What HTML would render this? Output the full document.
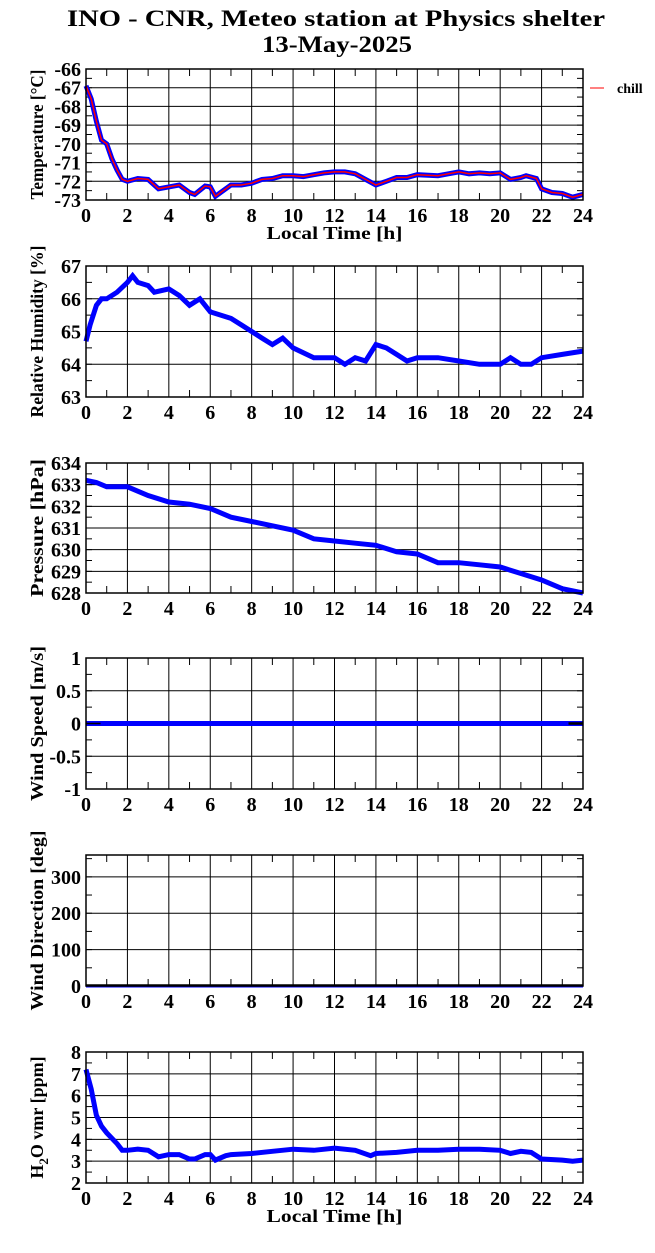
<!DOCTYPE html>
<html><head><meta charset="utf-8"><style>
html,body{margin:0;padding:0;background:#fff;}
svg text{font-family:"Liberation Serif",serif;font-weight:bold;fill:#000;}
</style></head><body>
<svg id="c" width="655" height="1248" viewBox="0 0 655 1248" xmlns="http://www.w3.org/2000/svg">
<text x="67" y="26" font-size="23" textLength="538" lengthAdjust="spacingAndGlyphs">INO - CNR, Meteo station at Physics shelter</text>
<text x="262" y="52" font-size="23" textLength="150" lengthAdjust="spacingAndGlyphs">13-May-2025</text>
<line x1="590" y1="88" x2="604" y2="88" stroke="#f00" stroke-width="1"/>
<text x="617" y="93" font-size="14">chill</text>
</svg>
<script>
const tempT=[0,0.25,0.5,0.75,1,1.25,1.5,1.75,2,2.5,3,3.5,4,4.5,5,5.25,5.75,6,6.25,6.5,7,7.5,8,8.5,9,9.5,10,10.5,11,11.5,12,12.5,13,13.5,14,14.5,15,15.5,16,17,17.5,18,18.5,19,19.5,20,20.5,21,21.25,21.75,22,22.5,23,23.5,24];
const tempV=[-66.9,-67.6,-68.8,-69.8,-70.0,-70.8,-71.4,-71.9,-72.0,-71.85,-71.9,-72.4,-72.3,-72.2,-72.6,-72.7,-72.25,-72.3,-72.8,-72.6,-72.2,-72.2,-72.1,-71.9,-71.85,-71.7,-71.7,-71.75,-71.65,-71.55,-71.5,-71.5,-71.6,-71.9,-72.2,-72.0,-71.8,-71.8,-71.65,-71.7,-71.6,-71.5,-71.6,-71.55,-71.6,-71.55,-71.9,-71.8,-71.7,-71.85,-72.4,-72.6,-72.65,-72.85,-72.7];
const rhT=[0,0.2,0.5,0.75,1,1.5,2,2.25,2.5,3,3.3,4,4.5,5,5.5,6,7,7.5,8,8.5,9,9.5,10,11,12,12.5,13,13.5,14,14.5,15,15.5,16,17,18,19,20,20.5,21,21.5,22,23,24];
const rhV=[64.7,65.2,65.8,66.0,66.0,66.2,66.5,66.7,66.5,66.4,66.2,66.3,66.1,65.8,66.0,65.6,65.4,65.2,65.0,64.8,64.6,64.8,64.5,64.2,64.2,64.0,64.2,64.1,64.6,64.5,64.3,64.1,64.2,64.2,64.1,64.0,64.0,64.2,64.0,64.0,64.2,64.3,64.4];
const prT=[0,0.5,1,2,3,4,5,6,7,8,9,10,11,12,13,14,15,16,17,18,19,20,21,22,23,24];
const prV=[633.2,633.1,632.9,632.9,632.5,632.2,632.1,631.9,631.5,631.3,631.1,630.9,630.5,630.4,630.3,630.2,629.9,629.8,629.4,629.4,629.3,629.2,628.9,628.6,628.2,628.0];
const wsT=[0,24];
const wsV=[0,0];
const wdT=[0,24];
const wdV=[0,0];
const h2oT=[0,0.25,0.5,0.75,1,1.5,1.75,2,2.5,3,3.5,4,4.5,5,5.25,5.75,6,6.25,6.75,7,8,9,10,11,12,13,13.75,14,15,16,17,18,19,20,20.5,21,21.5,22,23,23.5,24];
const h2oV=[7.2,6.3,5.1,4.6,4.3,3.8,3.5,3.5,3.55,3.5,3.2,3.3,3.3,3.1,3.1,3.3,3.3,3.05,3.25,3.3,3.35,3.45,3.55,3.5,3.6,3.5,3.25,3.35,3.4,3.5,3.5,3.55,3.55,3.5,3.35,3.45,3.4,3.1,3.05,3.0,3.05];
const xTicks=[0,2,4,6,8,10,12,14,16,18,20,22,24];

const NS="http://www.w3.org/2000/svg";
const svg=document.getElementById('c');
const X0=86,X1=583;
function el(tag,attrs,parent){const e=document.createElementNS(NS,tag);for(const k in attrs)e.setAttribute(k,attrs[k]);(parent||svg).appendChild(e);return e;}
const xs=t=>X0+(X1-X0)*t/24;

const panels=[
 {name:'temperature',top:69,bot:200,min:-73,max:-66,ticks:[-73,-72,-71,-70,-69,-68,-67,-66],minor:0.5,label:'Temperature [°C]',len:130,T:tempT,V:tempV,red:true,xlabel:true},
 {name:'humidity',top:266,bot:397,min:63,max:67,ticks:[63,64,65,66,67],minor:0.5,label:'Relative Humidity [%]',len:172,T:rhT,V:rhV},
 {name:'pressure',top:463,bot:593,min:628,max:634,ticks:[628,629,630,631,632,633,634],minor:0.5,label:'Pressure [hPa]',len:138,T:prT,V:prV},
 {name:'wind-speed',top:658,bot:789,min:-1,max:1,ticks:[-1,-0.5,0,0.5,1],minor:0.25,label:'Wind Speed [m/s]',len:155,T:wsT,V:wsV,wind:true},
 {name:'wind-direction',top:855,bot:986,min:0,max:360,ticks:[0,100,200,300],minor:50,label:'Wind Direction [deg]',len:180,T:wdT,V:wdV,wdir:true},
 {name:'h2o',top:1052,bot:1183,min:2,max:8,ticks:[2,3,4,5,6,7,8],minor:0.5,label:'H2O',len:0,T:h2oT,V:h2oV,xlabel:true}
];
panels.forEach(p=>{
 const g=el('g',{});
 
 
 const ys=v=>p.bot-(p.bot-p.top)*(v-p.min)/(p.max-p.min);
 p.ticks.forEach(v=>{const l=el('line',{x1:X0,x2:X1,y1:ys(v),y2:ys(v),stroke:'#000','stroke-width':1},g);
  const t=el('text',{x:X0-5,y:ys(v)+7,'font-size':20,'text-anchor':'end'},g);t.textContent=String(v);});
 for(let v=p.min;v<=p.max+1e-9;v+=p.minor){el('line',{x1:X0,x2:X0+6,y1:ys(v),y2:ys(v),stroke:'#000'},g);el('line',{x1:X1-6,x2:X1,y1:ys(v),y2:ys(v),stroke:'#000'},g);}
 xTicks.forEach(t=>{const l=el('line',{x1:xs(t),x2:xs(t),y1:p.top,y2:p.bot,stroke:'#000'},g);
  const tx=el('text',{x:xs(t),y:p.bot+22,'font-size':20,'text-anchor':'middle'},g);tx.textContent=String(t);});
 for(let t=1;t<24;t+=2){el('line',{x1:xs(t),x2:xs(t),y1:p.top,y2:p.top+7,stroke:'#000'},g);el('line',{x1:xs(t),x2:xs(t),y1:p.bot-7,y2:p.bot,stroke:'#000'},g);}
 const pts=p.T.map((t,i)=>xs(t).toFixed(1)+','+ys(p.V[i]).toFixed(1)).join(' ');
 const s=el('polyline',{points:pts,fill:'none',stroke:'#00f','stroke-width':p.wdir?3:5,'stroke-linejoin':'miter'},g);
 
 
 if(p.red){const r=el('polyline',{points:pts,fill:'none',stroke:'#f00','stroke-width':1.5},g);}
 if(p.wind){el('line',{x1:xs(0),x2:xs(0.7),y1:ys(0),y2:ys(0),stroke:'#000','stroke-width':1.5},g);el('line',{x1:xs(23.3),x2:xs(24),y1:ys(0),y2:ys(0),stroke:'#000','stroke-width':2.5},g);}
 if(p.wdir){el('line',{x1:X0,x2:X1,y1:ys(0)-1,y2:ys(0)-1,stroke:'#000','stroke-width':1.5},g);}
 const f=el('rect',{x:X0,y:p.top,width:X1-X0,height:p.bot-p.top,fill:'none',stroke:'#000','stroke-width':1.5},g);
 
 const cy=(p.top+p.bot)/2,lx=43;
 const yl=el('text',{x:lx,y:cy,'font-size':18,'text-anchor':'middle',transform:`rotate(-90 ${lx} ${cy})`},g);
 
 if(p.name==='h2o'){yl.innerHTML='H<tspan font-size="13" dy="5">2</tspan><tspan dy="-5">O vmr [ppm]</tspan>';}
 else {yl.textContent=p.label;yl.setAttribute('textLength',p.len);yl.setAttribute('lengthAdjust','spacingAndGlyphs');}
 if(p.xlabel){const xl=el('text',{x:(X0+X1)/2,y:p.bot+39,'font-size':18,'text-anchor':'middle',textLength:136,lengthAdjust:'spacingAndGlyphs'},g);xl.textContent='Local Time [h]';}
});
</script>
</body></html>
